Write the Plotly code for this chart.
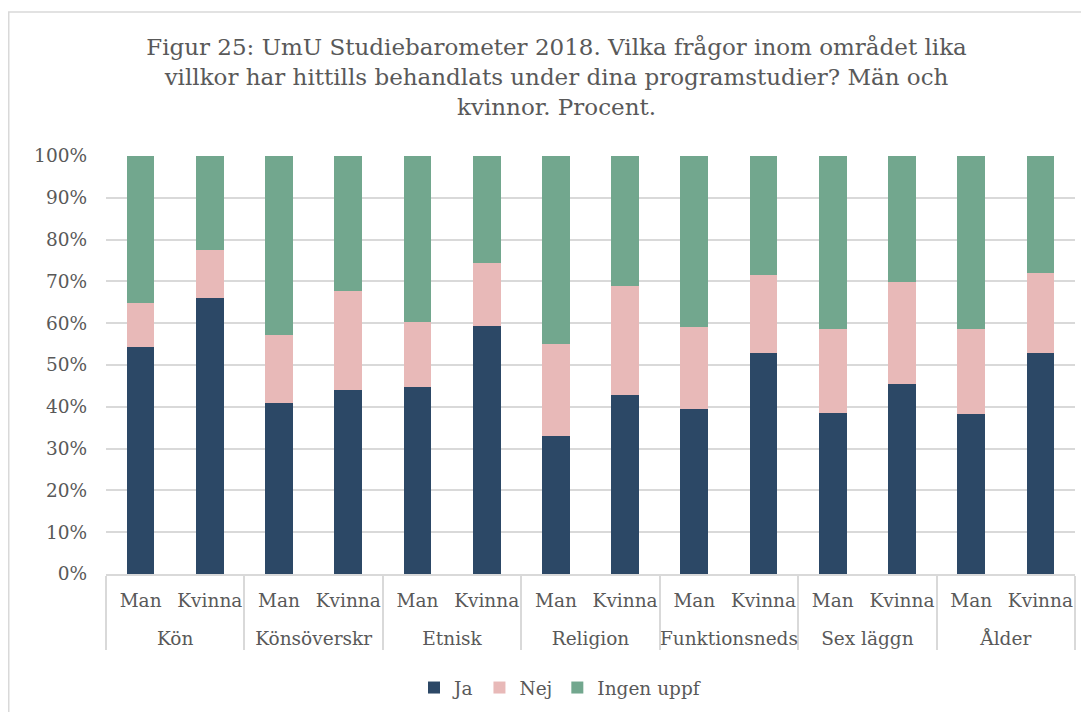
import plotly.graph_objects as go

groups = ["Kön", "Könsöverskr", "Etnisk", "Religion", "Funktionsneds", "Sex läggn", "Ålder"]
genders = ["Man", "Kvinna"]

ja = [54.2, 66.1, 40.8, 44.1, 44.7, 59.4, 33.0, 42.9, 39.4, 52.9, 38.5, 45.4, 38.3, 52.9]
nej = [10.7, 11.4, 16.4, 23.5, 15.7, 15.0, 22.0, 25.9, 19.6, 18.7, 20.1, 24.4, 20.3, 19.1]
ingen = [round(100 - a - b, 1) for a, b in zip(ja, nej)]

# group labels get an empty first line so the second row sits lower, as in the original
x_outer = ["<br>" + g for g in groups for _ in genders]
x_inner = [s for _ in groups for s in genders]

colors = {"Ja": "#2C4866", "Nej": "#E8B9B8", "Ingen uppf": "#72A78E"}
FONT = "DejaVu Serif"
TXT = "#595959"
GRID = "#D9D9D9"

W, H = 1081, 704
L, R, T, B = 98, 14, 148, 138
PW, PH = W - L - R, H - T - B

fig = go.Figure()
for name, vals in [("Ja", ja), ("Nej", nej), ("Ingen uppf", ingen)]:
    fig.add_trace(go.Bar(
        x=[x_outer, x_inner], y=vals, name=name,
        marker=dict(color=colors[name], line=dict(width=0)),
    ))

fig.update_layout(
    barmode="stack",
    bargap=0.6,
    width=W, height=H,
    margin=dict(l=L, r=R, t=T, b=B),
    paper_bgcolor="white", plot_bgcolor="white",
    font=dict(family=FONT, size=18.5, color=TXT),
    title=dict(
        text="Figur 25: UmU Studiebarometer 2018. Vilka frågor inom området lika<br>villkor har hittills behandlats under dina programstudier? Män och<br>kvinnor. Procent.",
        x=548.5 / W, xanchor="center", xref="container",
        y=1 - 47 / H, yanchor="top", yref="container",
        font=dict(family=FONT, size=23, color=TXT),
    ),
    legend=dict(
        orientation="h", x=552 / W, xanchor="center", xref="container",
        y=1 - 661 / H, yanchor="top", yref="container",
        font=dict(family=FONT, size=18.5, color=TXT),
        itemwidth=30, traceorder="normal",
    ),
    xaxis=dict(
        type="multicategory", automargin=False,
        showline=True, linecolor=GRID, linewidth=1.5,
        showdividers=True, dividercolor=GRID, dividerwidth=1.5,
        ticks="", ticklabelstandoff=9, tickangle=0,
        tickfont=dict(family=FONT, size=18.5, color=TXT),
        showgrid=False,
    ),
    yaxis=dict(
        range=[0, 100], dtick=10, ticksuffix="%", automargin=False,
        showgrid=True, gridcolor=GRID, gridwidth=1.5,
        zeroline=False, showline=False, ticklabelstandoff=18,
        tickfont=dict(family=FONT, size=18.5, color=TXT),
    ),
    shapes=[dict(
        type="rect", xref="paper", yref="paper",
        x0=(0.75 - L) / PW, x1=1.2, y0=-0.5, y1=(T + PH - 4) / PH,
        line=dict(color=GRID, width=1.5), fillcolor="rgba(0,0,0,0)", layer="below",
    )],
)

fig.write_html("out.html")
